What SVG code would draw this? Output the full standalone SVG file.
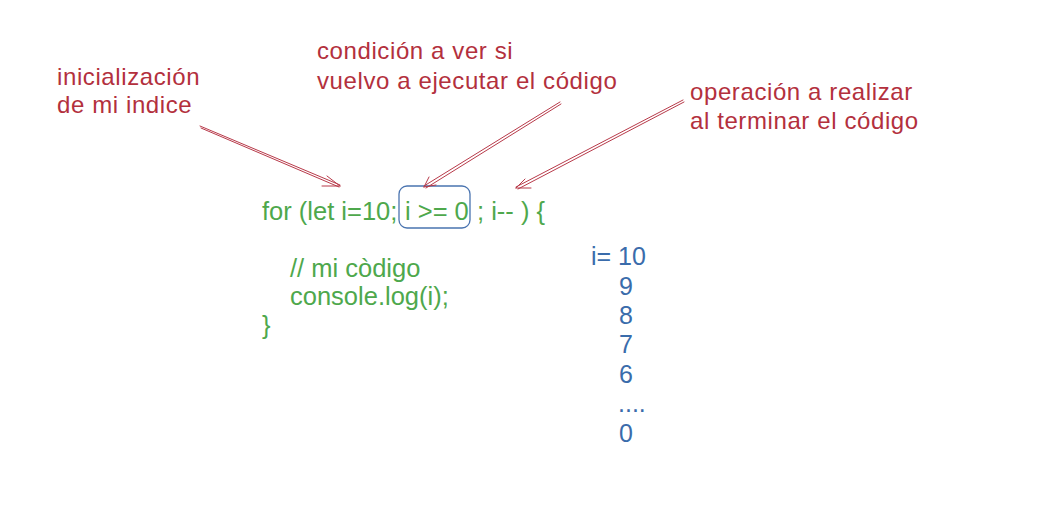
<svg xmlns="http://www.w3.org/2000/svg" width="1058" height="512" viewBox="0 0 1058 512">
<style>
.lbl{font-family:"Liberation Sans",Arial,sans-serif;font-size:24px;letter-spacing:0.6px;fill:#b3303d}
.code{font-family:"Liberation Sans",Arial,sans-serif;font-size:25.5px;fill:#4ea84c}
.out{font-family:"Liberation Sans",Arial,sans-serif;font-size:25px;fill:#3a6cab}
.arr{fill:none;stroke:#b83a4a;stroke-width:1;stroke-linecap:round}
</style>
<rect width="1058" height="512" fill="#ffffff"/>
<g id="label-init">
<text class="lbl" x="57" y="85">inicialización</text>
<text class="lbl" x="57" y="113">de mi indice</text>
</g>
<g id="label-cond">
<text class="lbl" x="317" y="59">condición a ver si</text>
<text class="lbl" x="317" y="89">vuelvo a ejecutar el código</text>
</g>
<g id="label-op">
<text class="lbl" x="690" y="100">operación a realizar</text>
<text class="lbl" x="690" y="129">al terminar el código</text>
</g>
<g id="code">
<text class="code" x="262" y="220">for (let i=10;</text>
<text class="code" x="405" y="220">i &gt;= 0</text>
<text class="code" x="477" y="220">; i-- ) {</text>
<text class="code" x="290" y="277">// mi còdigo</text>
<text class="code" x="290" y="305">console.log(i);</text>
<text class="code" x="262" y="334">}</text>
</g>
<g id="condition-box">
<rect x="399" y="186" width="71" height="42" rx="8" fill="none" stroke="#4a74b0" stroke-width="1.3"/>
</g>
<g id="output">
<text class="out" x="591" y="265">i= 10</text>
<text class="out" x="619" y="295">9</text>
<text class="out" x="619" y="324">8</text>
<text class="out" x="619" y="353">7</text>
<text class="out" x="619" y="383">6</text>
<text class="out" x="618" y="412">....</text>
<text class="out" x="619" y="442">0</text>
</g>
<g id="connectors">
<path class="arr" d="M200 126 L340 185 M201 128 L339 187 M340 186 L327 176 M340 186 L322 186"/>
<path class="arr" d="M560 102 L424 186 M561 104 L426 188 M424 187 L429 177 M424 187 L436 185"/>
<path class="arr" d="M683 100 L516 187 M684 102 L518 189 M516 188 L525 179 M516 188 L531 188"/>
</g>
</svg>
